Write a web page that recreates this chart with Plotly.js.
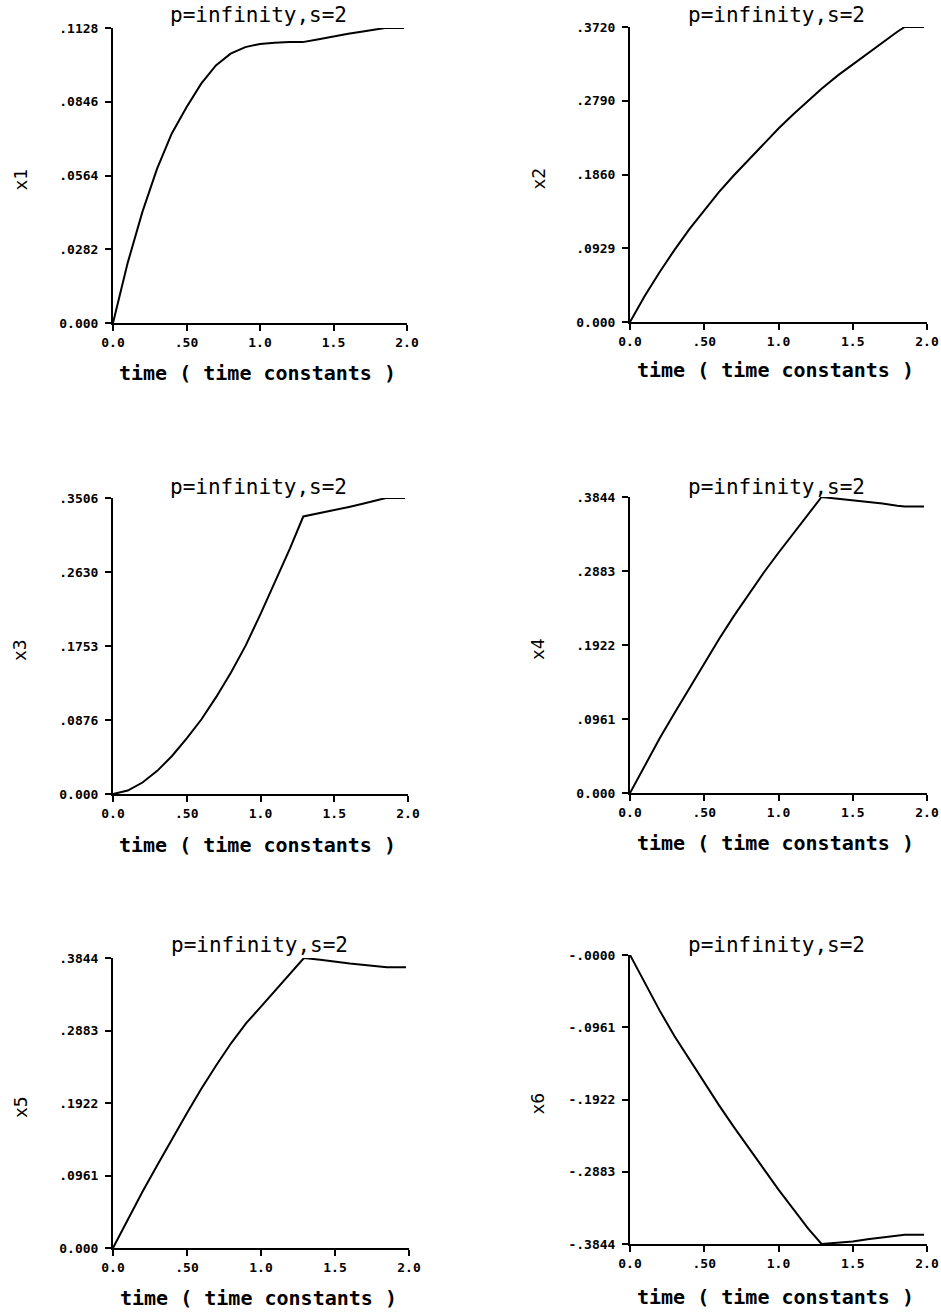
<!DOCTYPE html>
<html>
<head>
<meta charset="utf-8">
<script src="https://cdn.plot.ly/plotly-3.0.1.min.js"></script>
<style>
  html, body { margin: 0; padding: 0; background: #fff; }
  #chart { width: 941px; height: 1312px; }
</style>
</head>
<body>
<div id="chart"></div>
<script>
// ---------------- data ----------------
const time = [0, 0.1, 0.2, 0.3, 0.4, 0.5, 0.6, 0.7, 0.8, 0.9, 1.0, 1.1, 1.2, 1.29, 1.4, 1.5, 1.6, 1.7, 1.8, 1.85, 1.9, 1.98];

const x1 = [0, 0.023, 0.0425, 0.0590, 0.0725, 0.0825, 0.0915, 0.0985, 0.1030, 0.1055, 0.1067, 0.1072, 0.1074, 0.1074, 0.1085, 0.1096, 0.1106, 0.1115, 0.1125, 0.1128, 0.1128, 0.1128];
const x2 = [0, 0.033, 0.063, 0.091, 0.117, 0.141, 0.164, 0.185, 0.205, 0.225, 0.244, 0.262, 0.279, 0.294, 0.311, 0.325, 0.339, 0.353, 0.366, 0.372, 0.372, 0.372];
const x3 = [0, 0.0041, 0.0136, 0.0274, 0.045, 0.066, 0.0885, 0.115, 0.144, 0.176, 0.213, 0.252, 0.291, 0.3287, 0.3325, 0.336, 0.340, 0.344, 0.349, 0.3506, 0.3506, 0.3506];
const x4 = [0, 0.036, 0.071, 0.104, 0.136, 0.168, 0.200, 0.230, 0.258, 0.286, 0.312, 0.337, 0.362, 0.3844, 0.382, 0.380, 0.378, 0.376, 0.373, 0.372, 0.372, 0.372];
const x5 = [0, 0.038, 0.075, 0.110, 0.145, 0.179, 0.212, 0.243, 0.272, 0.298, 0.320, 0.342, 0.364, 0.3844, 0.382, 0.379, 0.377, 0.375, 0.373, 0.372, 0.372, 0.372];
const x6 = [0, -0.037, -0.074, -0.108, -0.139, -0.170, -0.200, -0.229, -0.257, -0.285, -0.312, -0.338, -0.364, -0.3844, -0.383, -0.381, -0.378, -0.376, -0.373, -0.372, -0.372, -0.372];

const xTickVals = [0, 0.5, 1.0, 1.5, 2.0];
const xTickText = ['0.0', '.50', '1.0', '1.5', '2.0'];

const y1TickVals = [0, 0.0282, 0.0564, 0.0846, 0.1128];
const y1TickText = ['0.000', '.0282', '.0564', '.0846', '.1128'];
const y2TickVals = [0, 0.0929, 0.1860, 0.2790, 0.3720];
const y2TickText = ['0.000', '.0929', '.1860', '.2790', '.3720'];
const y3TickVals = [0, 0.0876, 0.1753, 0.2630, 0.3506];
const y3TickText = ['0.000', '.0876', '.1753', '.2630', '.3506'];
const y4TickVals = [0, 0.0961, 0.1922, 0.2883, 0.3844];
const y4TickText = ['0.000', '.0961', '.1922', '.2883', '.3844'];
const y5TickVals = [0, 0.0961, 0.1922, 0.2883, 0.3844];
const y5TickText = ['0.000', '.0961', '.1922', '.2883', '.3844'];
const y6TickVals = [-0.3844, -0.2883, -0.1922, -0.0961, 0];
const y6TickText = ['-.3844', '-.2883', '-.1922', '-.0961', '-.0000'];

const panelTitle = 'p=infinity,s=2';
const xTitle = 'time ( time constants )';
const yTitles = ['x1', 'x2', 'x3', 'x4', 'x5', 'x6'];

// ---------------- layout helpers ----------------
const W = 941, H = 1312;
const px = v => v / W;
const py = v => 1 - v / H;

const series = [x1, x2, x3, x4, x5, x6];
const yTicks = [[y1TickVals, y1TickText], [y2TickVals, y2TickText], [y3TickVals, y3TickText],
                [y4TickVals, y4TickText], [y5TickVals, y5TickText], [y6TickVals, y6TickText]];

// plot-area boxes in pixels: [left, right, top, bottom]
const boxes = [
  [113, 407, 28, 323],
  [630, 927, 27, 322],
  [113, 408, 498, 794],
  [630, 927, 497, 793],
  [113, 409, 958, 1248],
  [630, 927, 955, 1244]
];
const titleY = [15, 15, 487, 487, 945, 945];
const xTitleY = [373, 370, 845, 843, 1298, 1297];
const yTitleX = [20, 538, 20, 537, 20, 537];

const monoBold = { family: 'DejaVu Sans Mono', size: 13, color: '#000', weight: 'bold' };

const traces = [];
const layout = {
  width: W, height: H,
  margin: { l: 0, r: 0, t: 0, b: 0 },
  paper_bgcolor: '#fff', plot_bgcolor: '#fff',
  showlegend: false,
  annotations: []
};

series.forEach((ys, i) => {
  const n = i + 1;
  const xa = n === 1 ? 'xaxis' : 'xaxis' + n;
  const ya = n === 1 ? 'yaxis' : 'yaxis' + n;
  const b = boxes[i];
  traces.push({
    type: 'scatter', mode: 'lines',
    x: time, y: ys,
    xaxis: 'x' + (n === 1 ? '' : n), yaxis: 'y' + (n === 1 ? '' : n),
    line: { color: '#000', width: 2 },
    hoverinfo: 'skip'
  });
  const tv = yTicks[i][0];
  const common = {
    showline: true, linecolor: '#000', linewidth: 2,
    ticks: 'outside', ticklen: 6, tickwidth: 2, tickcolor: '#000',
    showgrid: false, zeroline: false, fixedrange: true,
    tickfont: monoBold
  };
  layout[xa] = Object.assign({}, common, {
    domain: [px(b[0]), px(b[1])],
    anchor: 'y' + (n === 1 ? '' : n),
    range: [0, 2],
    tickmode: 'array', tickvals: xTickVals, ticktext: xTickText
  });
  layout[ya] = Object.assign({}, common, {
    domain: [py(b[3]), py(b[2])],
    anchor: 'x' + (n === 1 ? '' : n),
    range: [Math.min(...tv), Math.max(...tv)],
    tickmode: 'array', tickvals: tv, ticktext: yTicks[i][1],
    ticklabelstandoff: 4
  });
  const cx = (b[0] + b[1]) / 2;
  layout.annotations.push({
    xref: 'paper', yref: 'paper', x: px(cx - 2), y: py(titleY[i]),
    xanchor: 'center', yanchor: 'middle', showarrow: false,
    text: panelTitle,
    font: { family: 'DejaVu Sans Mono', size: 21, color: '#000' }
  });
  layout.annotations.push({
    xref: 'paper', yref: 'paper', x: px(cx - 3), y: py(xTitleY[i]),
    xanchor: 'center', yanchor: 'middle', showarrow: false,
    text: xTitle,
    font: { family: 'DejaVu Sans Mono', size: 20, color: '#000', weight: 'bold' }
  });
  layout.annotations.push({
    xref: 'paper', yref: 'paper', x: px(yTitleX[i]), y: py((b[2] + b[3]) / 2 + 4),
    xanchor: 'center', yanchor: 'middle', showarrow: false, textangle: -90,
    text: yTitles[i],
    font: { family: 'DejaVu Sans Mono', size: 18, color: '#000' }
  });
});

Plotly.newPlot('chart', traces, layout, { staticPlot: true, displayModeBar: false });
</script>
</body>
</html>
